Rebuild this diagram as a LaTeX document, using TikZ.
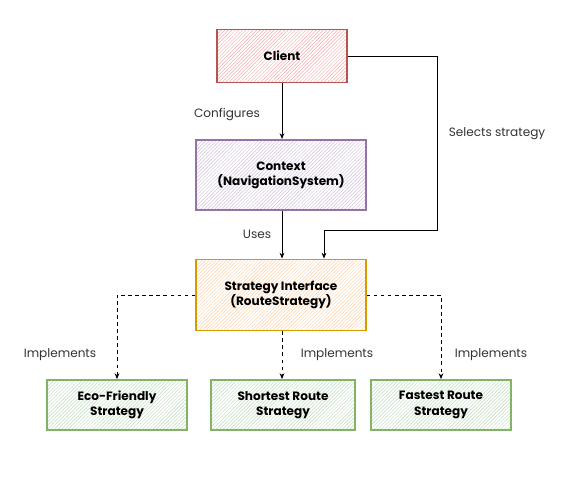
\documentclass[tikz,border=0pt]{standalone}
\usepackage{fontspec}
\setmainfont{Poppins}
\usetikzlibrary{calc,patterns,arrows.meta}

\definecolor{rojoborde}{HTML}{B85450}
\definecolor{rojofondo}{HTML}{F2AFAC}
\definecolor{lilaborde}{HTML}{9673A6}
\definecolor{lilafondo}{HTML}{D2C0DB}
\definecolor{naranjaborde}{HTML}{D79B00}
\definecolor{naranjafondo}{HTML}{FFD2A8}
\definecolor{verdeborde}{HTML}{82B366}
\definecolor{verdefondo}{HTML}{BFDDBC}
\definecolor{etiqueta}{HTML}{333333}

\tikzset{
    caja/.style={draw, line width=1.5pt, align=center, font=\fontsize{10.3}{13}\selectfont\bfseries,
        pattern=north east lines},
    flecha/.style={-{Stealth[length=5pt,width=4pt]}, line width=0.75pt},
    implementa/.style={flecha, dashed},
    rotulo/.style={text=etiqueta, font=\fontsize{10.3}{13}\selectfont}
}

\begin{document}
\begin{tikzpicture}[x=0.03cm, y=-0.03cm]
        \useasboundingbox (0,0) rectangle (587,480);
        % Cliente y contexto
        \node[caja, draw=rojoborde, pattern color=rojofondo,
              minimum width=3.9cm, minimum height=1.59cm] (client) at (282,56) {Client};
        \node[caja, draw=lilaborde, pattern color=lilafondo,
              minimum width=5.1cm, minimum height=2.1cm] (context) at (281,175) {Context\\(NavigationSystem)};

        % Interfaz de estrategia
        \node[caja, draw=naranjaborde, pattern color=naranjafondo,
              minimum width=5.1cm, minimum height=2.13cm] (strategy) at (281,295) {Strategy Interface\\(RouteStrategy)};

        % Estrategias concretas
        \node[caja, draw=verdeborde, pattern color=verdefondo,
              minimum width=4.2cm, minimum height=1.5cm] (eco) at (117,405) {Eco-Friendly\\Strategy};
        \node[caja, draw=verdeborde, pattern color=verdefondo,
              minimum width=4.32cm, minimum height=1.5cm] (shortest) at (283,405) {Shortest Route\\Strategy};
        \node[caja, draw=verdeborde, pattern color=verdefondo,
              minimum width=4.2cm, minimum height=1.5cm] (fastest) at (441,405) {Fastest Route\\Strategy};

        % Conexiones
        \draw[flecha] (client.south -| 282,0) -- (context.north -| 282,0);
        \node[rotulo] (configures) at (227,115) {Configures};
        \draw[flecha] (context.south -| 282,0) -- (strategy.north -| 282,0);
        \node[rotulo] (uses) at (257,234) {Uses};
        \coordinate (giro) at (437,230);
        \draw[flecha] (client.east) -| (giro) -| ($(strategy.north)+(43,0)$);
        \node[rotulo] (selects) at (497,134) {Selects strategy};

        % Implementaciones
        \draw[implementa] (strategy.west) -| (eco.north);
        \draw[implementa] (strategy.south -| 282,0) -- (shortest.north -| 282,0);
        \draw[implementa] (strategy.east) -| (fastest.north);
        \node[rotulo] (impl1) at (60,355) {Implements};
        \node[rotulo] (impl2) at (337,355) {Implements};
        \node[rotulo] (impl3) at (491,355) {Implements};
    \end{tikzpicture}
\end{document}
